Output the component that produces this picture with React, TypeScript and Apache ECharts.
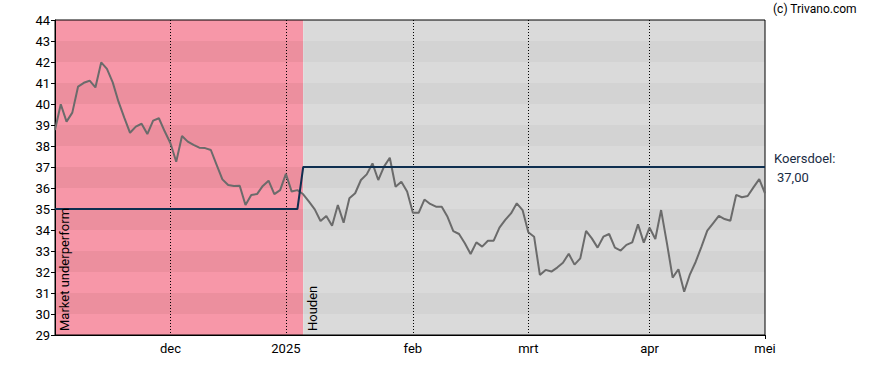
import React, { useEffect, useRef } from "react";
import * as echarts from "echarts";

// ---- data ----
const START_DATE = "2024-11-04";
const HOLIDAYS = ["2024-12-25", "2024-12-26", "2025-01-01", "2025-04-18", "2025-04-21"];
const MONTH_NAMES = ["jan", "feb", "mrt", "apr", "mei", "jun", "jul", "aug", "sep", "okt", "nov", "dec"];

const prices: number[] = [
  38.76, 39.99, 39.16, 39.59, 40.83, 41.01, 41.11, 40.79, 41.98, 41.67,
  41.03, 40.11, 39.35, 38.63, 38.92, 39.06, 38.57, 39.21, 39.32, 38.7,
  38.13, 37.25, 38.48, 38.21, 38.05, 37.92, 37.9, 37.81, 37.1, 36.41,
  36.14, 36.1, 36.11, 35.19, 35.67, 35.71, 36.1, 36.35, 35.71, 35.9,
  36.67, 35.83, 35.9, 35.7, 35.35, 34.98, 34.43, 34.67, 34.2, 35.19,
  34.35, 35.51, 35.75, 36.38, 36.65, 37.17, 36.38, 37.02, 37.44, 36.06,
  36.3, 35.83, 34.82, 34.82, 35.45, 35.24, 35.11, 35.11, 34.63, 33.95,
  33.81, 33.37, 32.86, 33.41, 33.21, 33.49, 33.49, 34.11, 34.48, 34.79,
  35.27, 34.95, 33.89, 33.68, 31.86, 32.1, 32.02, 32.21, 32.44, 32.87,
  32.35, 32.65, 33.96, 33.6, 33.16, 33.68, 33.81, 33.16, 33.02, 33.29,
  33.41, 34.27, 33.4, 34.11, 33.57, 34.95, 33.39, 31.73, 32.13, 31.06,
  31.89, 32.49, 33.21, 33.97, 34.32, 34.67, 34.52, 34.44, 35.67, 35.56,
  35.62, 36.03, 36.42, 35.75,
];

const targetSteps = [
  { from: "2024-11-04", value: 35 },
  { from: "2025-01-07", value: 37 },
];

const ratingPeriods = [
  { label: "Market underperform", from: "2024-11-04", to: "2025-01-07", colors: ["#f797a8", "#ec8f9e"] },
  { label: "Houden", from: "2025-01-07", to: "2025-05-01", colors: ["#dadada", "#d3d3d3"] },
];

const Y_MIN = 29;
const Y_MAX = 44;
const TARGET_LABEL = "Koersdoel:";
const TARGET_VALUE_TEXT = "37,00";
const COPYRIGHT = "(c) Trivano.com";

function isoDate(d: Date) {
  return d.toISOString().slice(0, 10);
}

function tradingDays(start: string, count: number): string[] {
  const out: string[] = [];
  const d = new Date(start + "T00:00:00Z");
  while (out.length < count) {
    const wd = d.getUTCDay();
    const s = isoDate(d);
    if (wd !== 0 && wd !== 6 && !HOLIDAYS.includes(s)) out.push(s);
    d.setUTCDate(d.getUTCDate() + 1);
  }
  return out;
}

const dates = tradingDays(START_DATE, prices.length);

function isMonthStart(i: number) {
  if (i === 0) return false;
  return dates[i].slice(0, 7) !== dates[i - 1].slice(0, 7);
}

export default function App() {
  const ref = useRef<HTMLDivElement>(null);

  useEffect(() => {
    if (!ref.current) return;
    const chart = echarts.init(ref.current, undefined, { renderer: "svg" });

    const targetData = dates.map((d) => {
      let v = targetSteps[0].value;
      for (const s of targetSteps) if (d >= s.from) v = s.value;
      return v;
    });

    const bands: any[] = [];
    for (const p of ratingPeriods) {
      for (let y = Y_MIN; y < Y_MAX; y++) {
        const color = y % 2 === 1 ? p.colors[0] : p.colors[1];
        bands.push([
          { xAxis: p.from, yAxis: y, itemStyle: { color } },
          { xAxis: p.to, yAxis: y + 1 },
        ]);
      }
    }

    const font = "Roboto, Arial, sans-serif";
    const last = dates.length - 1;

    chart.setOption({
      animation: false,
      textStyle: { fontFamily: font },
      grid: {
        left: 55,
        top: 20,
        width: 710,
        height: 315,
        show: true,
        z: 6,
        borderColor: "#000",
        borderWidth: 1,
        backgroundColor: "transparent",
      },
      xAxis: {
        type: "category",
        data: dates,
        boundaryGap: false,
        z: 5,
        axisLine: { show: true, lineStyle: { color: "#000", width: 1 } },
        axisTick: {
          show: true,
          length: 4,
          interval: (i: number) => i === last,
          lineStyle: { color: "#000" },
        },
        axisLabel: {
          interval: (i: number) => isMonthStart(i),
          color: "#000",
          fontSize: 13,
          fontFamily: font,
          margin: 7,
          formatter: (v: string) => {
            const m = parseInt(v.slice(5, 7), 10) - 1;
            return m === 0 ? v.slice(0, 4) : MONTH_NAMES[m];
          },
        },
        splitLine: {
          show: true,
          interval: (i: number) => isMonthStart(i) && i !== last,
          lineStyle: { color: "#000", type: [1, 2], width: 1 },
        },
      },
      yAxis: {
        type: "value",
        min: Y_MIN,
        max: Y_MAX,
        interval: 1,
        z: 5,
        axisLine: { show: true, lineStyle: { color: "#000", width: 1 } },
        axisTick: { show: true, length: 4, lineStyle: { color: "#000" } },
        axisLabel: { color: "#000", fontSize: 13, fontFamily: font, margin: 5 },
        splitLine: { show: false },
      },
      series: [
        {
          type: "line",
          data: [],
          silent: true,
          z: 1,
          markArea: { silent: true, data: bands, itemStyle: { opacity: 1 } },
        },
        {
          name: "Koers",
          type: "line",
          data: prices,
          symbol: "none",
          z: 10,
          lineStyle: { color: "#6b6b6b", width: 2 },
        },
        {
          name: "Koersdoel",
          type: "line",
          data: targetData,
          symbol: "none",
          z: 11,
          lineStyle: { color: "#0e2f50", width: 2 },
        },
      ],
      graphic: [
        {
          type: "text",
          x: 64,
          y: 331,
          z: 20,
          rotation: Math.PI / 2,
          style: {
            text: ratingPeriods[0].label,
            fill: "#000",
            font: `13px ${font}`,
            textAlign: "left",
            textVerticalAlign: "middle",
          },
        },
        {
          type: "text",
          x: 312,
          y: 331,
          z: 20,
          rotation: Math.PI / 2,
          style: {
            text: ratingPeriods[1].label,
            fill: "#000",
            font: `13px ${font}`,
            textAlign: "left",
            textVerticalAlign: "middle",
          },
        },
        {
          type: "text",
          x: 773,
          y: 9,
          z: 20,
          style: {
            text: COPYRIGHT,
            fill: "#000",
            font: `12px ${font}`,
            textAlign: "left",
            textVerticalAlign: "middle",
          },
        },
        {
          type: "text",
          x: 774,
          y: 158,
          z: 20,
          style: {
            text: TARGET_LABEL,
            fill: "#1a2c44",
            font: `13px ${font}`,
            textAlign: "left",
            textVerticalAlign: "middle",
          },
        },
        {
          type: "text",
          x: 777,
          y: 177,
          z: 20,
          style: {
            text: TARGET_VALUE_TEXT,
            fill: "#1a2c44",
            font: `13px ${font}`,
            textAlign: "left",
            textVerticalAlign: "middle",
          },
        },
      ],
    });

    return () => chart.dispose();
  }, []);

  return (
    <div
      ref={ref}
      style={{ position: "fixed", left: 0, top: 0, width: 888, height: 370, background: "#fff" }}
    />
  );
}
